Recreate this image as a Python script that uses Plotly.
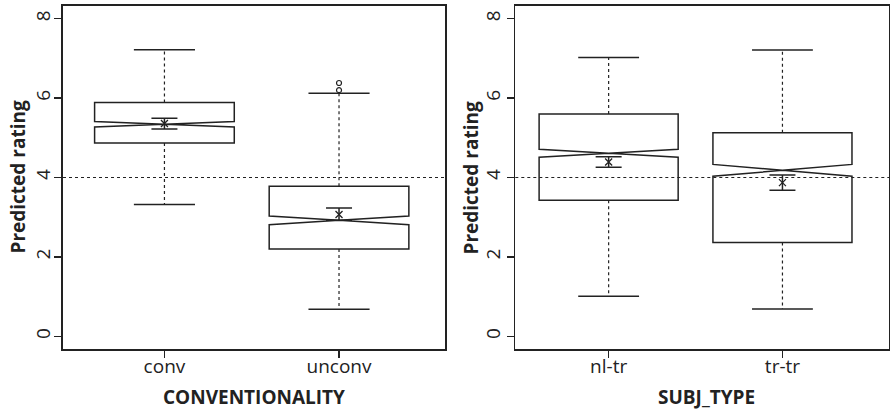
import plotly.graph_objects as go

# ---------------- data ----------------
left_groups = ["conv", "unconv"]
left_q1 = [4.87, 2.20]
left_median = [5.34, 2.92]
left_q3 = [5.89, 3.78]
left_lower = [3.32, 0.68]
left_upper = [7.22, 6.12]
left_notch = [0.07, 0.11]
left_mean = [5.36, 3.07]
left_ci_lo = [5.22, 2.92]
left_ci_hi = [5.49, 3.23]
left_outlier_group = [2, 2]
left_outlier_value = [6.20, 6.38]

right_groups = ["nl-tr", "tr-tr"]
right_q1 = [3.43, 2.36]
right_median = [4.61, 4.18]
right_q3 = [5.60, 5.13]
right_lower = [1.01, 0.69]
right_upper = [7.02, 7.21]
right_notch = [0.10, 0.15]
right_mean = [4.39, 3.87]
right_ci_lo = [4.26, 3.68]
right_ci_hi = [4.52, 4.06]
right_outlier_group = []
right_outlier_value = []

y_ticks = [0, 2, 4, 6, 8]
reference_line = 4
y_title = "Predicted rating"
left_x_title = "CONVENTIONALITY"
right_x_title = "SUBJ_TYPE"

# ---------------- style ----------------
INK = "#222222"
FONT = "Open Sans"
BOX_W = 0.8
CAP_W = 0.35
LW = 1.5
W, H = 890, 411

fig = go.Figure()


def add_panel(xa, ya, groups, q1, med, q3, lo, hi, notch, mean, cilo, cihi, og, ov):
    pos = list(range(1, len(groups) + 1))
    fig.add_trace(go.Box(
        x=pos, q1=q1, median=med, q3=q3, lowerfence=q1, upperfence=q3,
        notchspan=notch, notched=True, notchwidth=0.5, width=BOX_W,
        whiskerwidth=0, fillcolor="white", line=dict(color=INK, width=LW),
        boxpoints=False, hoverinfo="skip", showlegend=False,
        xaxis=xa, yaxis=ya))
    # dashed whiskers
    wx, wy = [], []
    for p, a, b, c, d in zip(pos, q3, hi, q1, lo):
        wx += [p, p, None, p, p, None]
        wy += [a, b, None, c, d, None]
    fig.add_trace(go.Scatter(x=wx, y=wy, mode="lines",
                             line=dict(color=INK, width=1.2, dash="3px,3px"),
                             hoverinfo="skip", showlegend=False, xaxis=xa, yaxis=ya))
    # staples
    sx, sy = [], []
    for p, b, d in zip(pos, hi, lo):
        sx += [p - CAP_W / 2, p + CAP_W / 2, None, p - CAP_W / 2, p + CAP_W / 2, None]
        sy += [b, b, None, d, d, None]
    fig.add_trace(go.Scatter(x=sx, y=sy, mode="lines",
                             line=dict(color=INK, width=LW),
                             hoverinfo="skip", showlegend=False, xaxis=xa, yaxis=ya))
    # outliers
    if ov:
        fig.add_trace(go.Scatter(x=og, y=ov, mode="markers",
                                 marker=dict(symbol="circle-open", size=5, color=INK,
                                             line=dict(width=1.2, color=INK)),
                                 hoverinfo="skip", showlegend=False, xaxis=xa, yaxis=ya))
    # means with intervals
    fig.add_trace(go.Scatter(
        x=pos, y=mean, mode="markers",
        marker=dict(symbol="x-thin-open", size=7, color=INK, line=dict(width=1.3, color=INK)),
        error_y=dict(type="data", symmetric=False,
                     array=[h - m for h, m in zip(cihi, mean)],
                     arrayminus=[m - l for l, m in zip(cilo, mean)],
                     color=INK, thickness=LW, width=13),
        hoverinfo="skip", showlegend=False, xaxis=xa, yaxis=ya))


add_panel("x", "y", left_groups, left_q1, left_median, left_q3, left_lower, left_upper,
          left_notch, left_mean, left_ci_lo, left_ci_hi, left_outlier_group, left_outlier_value)
add_panel("x2", "y2", right_groups, right_q1, right_median, right_q3, right_lower, right_upper,
          right_notch, right_mean, right_ci_lo, right_ci_hi, right_outlier_group, right_outlier_value)

for xr, yr in (("x domain", "y"), ("x2 domain", "y2")):
    fig.add_shape(type="line", xref=xr, yref=yr, x0=0, x1=1, y0=reference_line, y1=reference_line,
                  line=dict(color=INK, width=1.2, dash="3px,3px"), layer="above")

axis_common = dict(showgrid=False, zeroline=False, showline=True, mirror=True, automargin=False,
                   linecolor=INK, linewidth=1.6, ticks="outside", ticklen=7, tickwidth=1.5,
                   tickcolor=INK, tickfont=dict(family=FONT, size=19, color=INK))

ydom = [62 / H, 405 / H]
x1dom = [63 / W, 445 / W]
x2dom = [515.3 / W, 889 / W]

title_font = dict(family=FONT, size=19, color=INK)
annotations = [
    dict(text="<b>%s</b>" % y_title, x=17 / W, y=(H - 177.5) / H, textangle=-90),
    dict(text="<b>%s</b>" % y_title, x=470 / W, y=(H - 177.5) / H, textangle=-90),
    dict(text="<b>%s</b>" % left_x_title, x=sum(x1dom) / 2, y=(H - 397) / H),
    dict(text="<b>%s</b>" % right_x_title, x=706 / W, y=(H - 397) / H),
]
for a in annotations:
    a.update(xref="paper", yref="paper", showarrow=False, xanchor="center", yanchor="middle",
             font=title_font)

fig.update_layout(
    width=W, height=H, margin=dict(l=0, r=0, t=0, b=0, autoexpand=False),
    paper_bgcolor="white", plot_bgcolor="white", showlegend=False,
    font=dict(family=FONT, color=INK),
    annotations=annotations,
    xaxis=dict(domain=x1dom, range=[0.419, 2.607], tickvals=[1, 2], ticktext=left_groups,
               ticklabelstandoff=-7, **axis_common),
    yaxis=dict(domain=ydom, range=[-0.32, 8.32], tickvals=y_ticks, tickangle=-90,
               ticklabelstandoff=-3, **axis_common),
    xaxis2=dict(domain=x2dom, range=[0.463, 2.613], anchor="y2",
                tickvals=[1, 2], ticktext=right_groups, ticklabelstandoff=-7, **axis_common),
    yaxis2=dict(domain=ydom, range=[-0.32, 8.32], tickvals=y_ticks, tickangle=-90, anchor="x2",
                ticklabelstandoff=-1, **axis_common),
)

fig.write_html("out.html", config={"displayModeBar": False, "staticPlot": True},
               post_script="document.body.style.margin='0';document.body.style.overflow='hidden';")
